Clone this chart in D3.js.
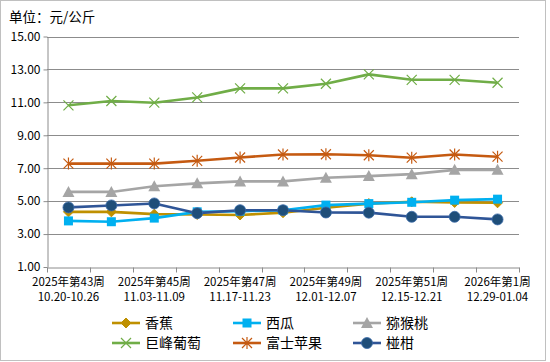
<!DOCTYPE html>
<html><head><meta charset="utf-8">
<script src="https://cdn.jsdelivr.net/npm/d3@7"></script>
<style>
html,body{margin:0;padding:0;background:#fff;}
svg{display:block;font-family:"Noto Sans CJK SC","Noto Sans",sans-serif;}
</style></head>
<body><svg id="c" width="550" height="362"></svg>
<script>
const weeks = ["2025年第43周","2025年第44周","2025年第45周","2025年第46周","2025年第47周","2025年第48周","2025年第49周","2025年第50周","2025年第51周","2025年第52周","2026年第1周"];
const dateRanges = ["10.20-10.26","10.27-11.02","11.03-11.09","11.10-11.16","11.17-11.23","11.24-11.30","12.01-12.07","12.08-12.14","12.15-12.21","12.22-12.28","12.29-01.04"];
const yTicks = [1,3,5,7,9,11,13,15];
const banana     = [4.35,4.35,4.21,4.19,4.16,4.30,4.60,4.85,4.96,4.92,4.90];
const watermelon = [3.80,3.75,3.97,4.35,4.39,4.45,4.76,4.85,4.93,5.06,5.12];
const kiwi       = [5.56,5.56,5.90,6.08,6.20,6.20,6.42,6.52,6.64,6.90,6.90];
const grape      = [10.82,11.08,10.98,11.30,11.85,11.85,12.13,12.70,12.37,12.37,12.19];
const apple      = [7.28,7.28,7.28,7.45,7.65,7.83,7.85,7.79,7.64,7.83,7.70];
const ponkan     = [4.62,4.74,4.86,4.27,4.45,4.45,4.31,4.30,4.05,4.05,3.89];

const seriesNames = ["香蕉","西瓜","猕猴桃","巨峰葡萄","富士苹果","椪柑"];
const seriesValues = [banana, watermelon, kiwi, grape, apple, ponkan];
const styles = [
  {color:"#bf9000", fill:"#bf9000", marker:"diamond"},
  {color:"#00b0f0", fill:"#00b0f0", marker:"square"},
  {color:"#a5a5a5", fill:"#a5a5a5", marker:"triangle"},
  {color:"#70ad47", fill:"none", marker:"x"},
  {color:"#c55a11", fill:"none", marker:"star"},
  {color:"#2f5597", fill:"#1f4e79", marker:"circle"}
];

const svg = d3.select("#c");
svg.append("rect").attr("x",0.5).attr("y",0.5).attr("width",545).attr("height",360)
  .attr("fill","#fff").attr("stroke","#c0c0c0");

const pLeft=47, pRight=519, pTop=36.5, pBottom=267;
const x = d3.scaleBand().domain(weeks).range([pLeft,pRight]);
const y = d3.scaleLinear().domain([1,15]).range([pBottom,pTop]);
const cx = d => x(d) + x.bandwidth()/2;

svg.append("text").attr("x",9).attr("y",22).attr("font-size",13.5).attr("fill","#000").text("单位：元/公斤");

svg.append("g").selectAll("line").data(yTicks.filter(v=>v>1)).join("line")
  .attr("x1",pLeft).attr("x2",pRight).attr("y1",d=>Math.round(y(d))+0.5).attr("y2",d=>Math.round(y(d))+0.5)
  .attr("stroke","#8c8c8c").attr("stroke-width",1);

const yAxis = svg.append("g").attr("transform",`translate(${pLeft+0.5},0)`)
  .call(d3.axisLeft(y).tickValues(yTicks).tickFormat(d3.format(".2f")).tickSize(4).tickSizeOuter(0).tickPadding(3));
yAxis.select(".domain").attr("stroke","#8c8c8c");
yAxis.selectAll(".tick line").attr("stroke","#8c8c8c");
yAxis.selectAll(".tick text").attr("font-size",12).attr("fill","#000")
  .attr("font-family","'Noto Sans CJK SC',sans-serif");

const xAxis = svg.append("g").attr("transform",`translate(0,${Math.round(pBottom)+0.5})`)
  .call(d3.axisBottom(x).tickSize(0).tickFormat(""));
xAxis.select(".domain").attr("stroke","#8c8c8c");
const bounds = weeks.map(w=>x(w)).concat([x(weeks[weeks.length-1])+x.bandwidth()]);
xAxis.selectAll(".bt").data(bounds).join("line").attr("class","bt")
  .attr("x1",d=>Math.round(d)+0.5).attr("x2",d=>Math.round(d)+0.5).attr("y1",0).attr("y2",5)
  .attr("stroke","#8c8c8c");
const lab = svg.append("g");
weeks.forEach((w,i)=>{
  if(i%2!==0) return;
  const t = lab.append("text").attr("text-anchor","middle").attr("font-size",11.5).attr("fill","#000");
  t.append("tspan").attr("x",cx(w)).attr("y",286).text(w);
  t.append("tspan").attr("x",cx(w)).attr("y",301).text(dateRanges[i]);
});

function drawMarker(g, type, st, px, py){
  if(type==="diamond"){
    g.append("path").attr("d",`M${px},${py-5}L${px+5},${py}L${px},${py+5}L${px-5},${py}Z`).attr("fill",st.fill).attr("stroke",st.color);
  } else if(type==="square"){
    g.append("rect").attr("x",px-4.5).attr("y",py-4.5).attr("width",9).attr("height",9).attr("fill",st.fill);
  } else if(type==="triangle"){
    g.append("path").attr("d",`M${px},${py-6}L${px+6},${py+5}L${px-6},${py+5}Z`).attr("fill",st.fill);
  } else if(type==="x"){
    g.append("path").attr("d",`M${px-5},${py-5}L${px+5},${py+5}M${px-5},${py+5}L${px+5},${py-5}`).attr("stroke",st.color).attr("stroke-width",1.2).attr("fill","none");
  } else if(type==="star"){
    g.append("path").attr("d",`M${px-5},${py-5}L${px+5},${py+5}M${px-5},${py+5}L${px+5},${py-5}M${px},${py-6}L${px},${py+6}`).attr("stroke",st.color).attr("stroke-width",1.2).attr("fill","none");
  } else if(type==="circle"){
    g.append("circle").attr("cx",px).attr("cy",py).attr("r",5.5).attr("fill",st.fill).attr("stroke","#3a6aa8").attr("stroke-width",0.8);
  }
}

const line = d3.line().x((d,i)=>cx(weeks[i])).y(d=>y(d));
const drawOrder = [3,4,2,0,1,5];
drawOrder.forEach(k=>{
  const st = styles[k];
  const g = svg.append("g");
  g.append("path").datum(seriesValues[k]).attr("d",line).attr("fill","none")
    .attr("stroke",st.color).attr("stroke-width",2.6).attr("stroke-linejoin","round");
  seriesValues[k].forEach((v,i)=>drawMarker(g, st.marker, st, cx(weeks[i]), y(v)));
});

const legX = [112, 233, 353];
const legY = [323, 343];
seriesNames.forEach((n,k)=>{
  const st = styles[k];
  const lx = legX[k%3], ly = legY[Math.floor(k/3)];
  const g = svg.append("g");
  g.append("line").attr("x1",lx).attr("x2",lx+28).attr("y1",ly).attr("y2",ly).attr("stroke",st.color).attr("stroke-width",2.6);
  drawMarker(g, st.marker, st, lx+14, ly);
  g.append("text").attr("x",lx+33).attr("y",ly+5).attr("font-size",14).attr("fill","#000").text(n);
});
</script></body></html>
